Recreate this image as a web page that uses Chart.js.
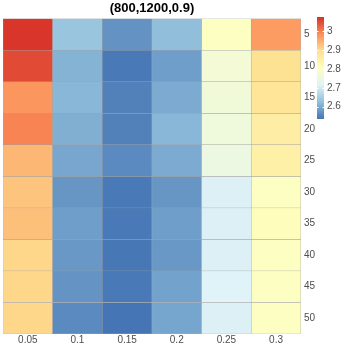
<!DOCTYPE html>
<html><head><meta charset="utf-8">
<script src="https://cdn.jsdelivr.net/npm/chart.js@4/dist/chart.umd.min.js"></script>
<style>html,body{margin:0;padding:0;background:#fff}#wrap{width:345px;height:345px}</style>
</head><body><div id="wrap"><canvas id="c" width="345" height="345"></canvas></div>
<script>
const title = '(800,1200,0.9)';
const xLabels = ['0.05','0.1','0.15','0.2','0.25','0.3'];
const yLabels = [5,10,15,20,25,30,35,40,45,50];
// one row per y label, values for each x label
const values = [
  [3.07, 2.635, 2.57, 2.625, 2.80, 2.97],
  [3.05, 2.61, 2.54, 2.585, 2.77, 2.89],
  [2.975, 2.615, 2.55, 2.60, 2.765, 2.88],
  [2.995, 2.605, 2.55, 2.615, 2.76, 2.855],
  [2.94, 2.595, 2.56, 2.60, 2.75, 2.85],
  [2.925, 2.575, 2.54, 2.575, 2.71, 2.80],
  [2.93, 2.585, 2.54, 2.585, 2.71, 2.81],
  [2.905, 2.578, 2.537, 2.578, 2.71, 2.80],
  [2.905, 2.573, 2.54, 2.59, 2.715, 2.80],
  [2.905, 2.56, 2.535, 2.593, 2.71, 2.80]
];
const colorTicks = [3, 2.9, 2.8, 2.7, 2.6];
const vMin = 2.535, vMax = 3.075;
const palette = ['#4575b4','#91bfdb','#e0f3f8','#ffffbf','#fee090','#fc8d59','#d73027'];

function hex(h){return [1,3,5].map(i=>parseInt(h.substr(i,2),16));}
function colorFor(v){
  let t = (v - vMin)/(vMax - vMin); t = Math.max(0, Math.min(1, t));
  const p = t*(palette.length-1); const i = Math.min(Math.floor(p), palette.length-2); const f = p - i;
  const a = hex(palette[i]), b = hex(palette[i+1]);
  const c = a.map((x,k)=>Math.round(x + (b[k]-x)*f));
  return 'rgb('+c.join(',')+')';
}

const datasets = yLabels.map((yv, r) => ({
  label: String(yv),
  data: values[r].map((v, ci) => [yv - 2.5, yv + 2.5]),
  backgroundColor: values[r].map(colorFor),
  borderColor: '#a3a3a3',
  borderWidth: 0.5,
  borderSkipped: false,
  grouped: false,
  barPercentage: 1,
  categoryPercentage: 1
}));

const colorbar = {
  id: 'colorbar',
  afterDraw(chart){
    const ctx = chart.ctx;
    const x0 = 317, w = 7, top = 17, bot = 119;
    const yOf = v => top + (vMax - v)/(vMax - vMin)*(bot - top);
    const g = ctx.createLinearGradient(0, bot, 0, top);
    palette.forEach((c, i) => g.addColorStop(i/(palette.length-1), c));
    ctx.save();
    ctx.fillStyle = g;
    ctx.fillRect(x0, top, w, bot - top);
    ctx.strokeStyle = '#ffffff'; ctx.lineWidth = 1;
    ctx.font = '10px "Liberation Sans", Arial, sans-serif';
    ctx.fillStyle = '#4d4d4d'; ctx.textBaseline = 'middle'; ctx.textAlign = 'left';
    colorTicks.forEach(t => {
      const y = Math.round(yOf(t)) + 0.5;
      ctx.beginPath(); ctx.moveTo(x0, y); ctx.lineTo(x0+1.5, y); ctx.moveTo(x0+w-1.5, y); ctx.lineTo(x0+w, y); ctx.stroke();
      ctx.fillText(String(t), 327, yOf(t));
    });
    ctx.restore();
  }
};

new Chart(document.getElementById('c'), {
  type: 'bar',
  data: { labels: xLabels, datasets },
  options: {
    responsive: false, animation: false, devicePixelRatio: 1,
    layout: { padding: { left: 3, right: 27, top: 0, bottom: -1 } },
    plugins: {
      legend: { display: false }, tooltip: { enabled: false },
      title: { display: true, text: title, fullSize: false, color: '#000',
        font: { family: '"Liberation Sans", Arial, sans-serif', size: 13, weight: 'bold' },
        padding: { top: 1, bottom: 2 } }
    },
    scales: {
      x: { type: 'category', grid: { display: false, drawTicks: false }, border: { display: false },
        ticks: { color: '#4d4d4d', padding: 0, font: { family: '"Liberation Sans", Arial, sans-serif', size: 10 } } },
      y: { type: 'linear', position: 'right', reverse: true, min: 2.5, max: 52.5,
        grid: { display: false, drawTicks: false }, border: { display: false },
        afterBuildTicks: a => { a.ticks = yLabels.map(v => ({ value: v })); },
        ticks: { color: '#4d4d4d', padding: 3, autoSkip: false, font: { family: '"Liberation Sans", Arial, sans-serif', size: 10 } } }
    }
  },
  plugins: [colorbar]
});
</script></body></html>
